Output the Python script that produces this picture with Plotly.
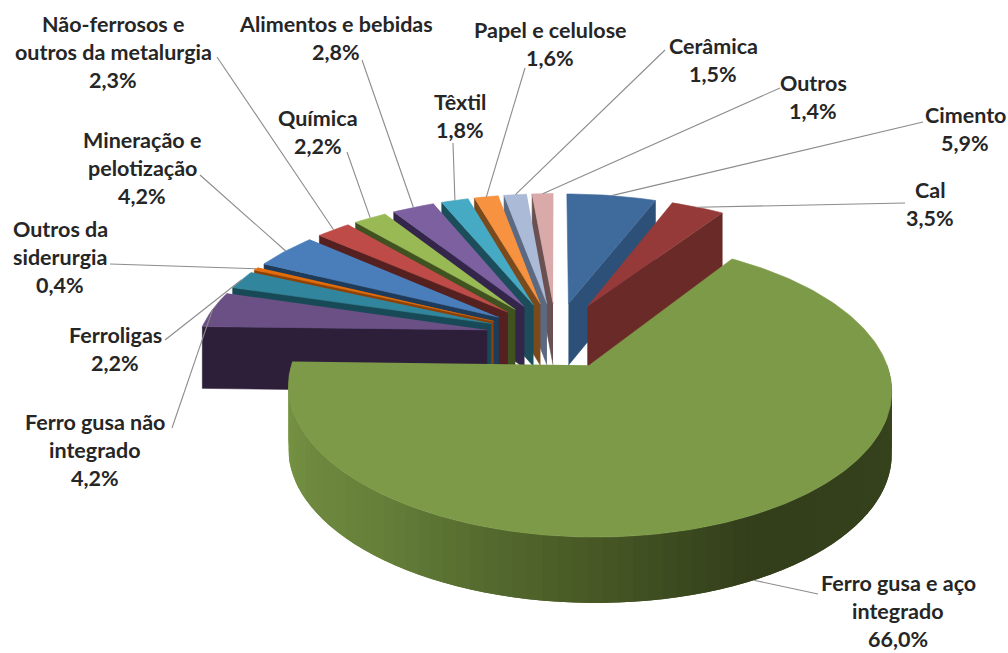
import numpy as np
import plotly.graph_objects as go

# ---------- data ----------
categories = ["Cimento", "Cal", "Ferro gusa e aço<br>integrado", "Ferro gusa não<br>integrado",
              "Ferroligas", "Outros da<br>siderurgia", "Mineração e<br>pelotização",
              "Não-ferrosos e<br>outros da metalurgia", "Química", "Alimentos e bebidas",
              "Têxtil", "Papel e celulose", "Cerâmica", "Outros"]
values = [5.9, 3.5, 66.0, 4.2, 2.2, 0.4, 4.2, 2.3, 2.2, 2.8, 1.8, 1.6, 1.5, 1.4]
value_text = ["5,9%", "3,5%", "66,0%", "4,2%", "2,2%", "0,4%", "4,2%", "2,3%", "2,2%", "2,8%",
              "1,8%", "1,6%", "1,5%", "1,4%"]

# ---------- style ----------
top_colors = ["#3f6a9c", "#953a38", "#7d9a48", "#6b5085", "#31859c", "#e46c0a", "#4a7ebb",
              "#be4b48", "#98b954", "#7d60a0", "#46aac5", "#f69240", "#aabad7", "#d9aaa9"]
wall_colors = ["#2c5078", "#6a2a28", "#3f4f20", "#2d1f3a", "#174a56", "#8a4208", "#1f3b5a",
               "#552020", "#3f5220", "#33264a", "#1b4d5a", "#7a4a1c", "#5b6a82", "#6a5050"]
label_center_x = [965, 930, 898, 95, 115, 60, 142, 113, 318, 336, 460, 550, 713, 813]
label_first_y = [115, 190, 583, 422, 335, 229, 140, 24, 118, 24, 102, 30, 46, 83]
leader_start = [(923, 122), (905, 203), (818, 594), (172, 428), (165, 340), (110, 264), (200, 175),
                (217, 57), (347, 152), (362, 60), (453, 143), (525, 68), (665, 50), (780, 88)]
LINE_H = 28
FONT_SIZE = 21.5

CX, CY = 556, 335
R, EXPL, K, Q, DEPTH = 288, 70, 0.47, 0.00053, 62


def proj(X, Y, z=0.0):
    s = 1 / (1 + Q * Y)
    return CX + X * s, CY - K * Y * s + z * DEPTH * s ** 0.3


def rim(theta, mid, z=0.0, r=R):
    X = EXPL * np.sin(mid) + r * np.sin(theta)
    Y = EXPL * np.cos(mid) + r * np.cos(theta)
    return proj(X, Y, z)


def poly(fig, xs, ys, color, width=0.6):
    fig.add_trace(go.Scatter(x=list(xs), y=list(ys), mode="lines", fill="toself", fillcolor=color,
                             line=dict(color=color, width=width), hoverinfo="skip", showlegend=False))


def lerp_color(stops, t):
    ts = [a for a, _ in stops]
    rgb = [[int(c[i:i + 2], 16) for i in (1, 3, 5)] for _, c in stops]
    return "rgb(%d,%d,%d)" % tuple(np.interp(t, ts, [c[j] for c in rgb]) for j in range(3))


GREEN_WALL = [(90, "#37441d"), (150, "#333e1b"), (180, "#4a5c27"), (215, "#66803a"), (270, "#7d9a47")]

fig = go.Figure()
vals = np.array(values)
edges = np.radians(np.concatenate([[0], np.cumsum(vals)]) * 360 / vals.sum())
mids = (edges[:-1] + edges[1:]) / 2
order = np.argsort(-np.cos(mids))

for i in order:
    a, b, m = edges[i], edges[i + 1], mids[i]
    ax, ay = proj(EXPL * np.sin(m), EXPL * np.cos(m))
    ax2, ay2 = proj(EXPL * np.sin(m), EXPL * np.cos(m), 1)
    if b < np.pi:
        x1, y1 = rim(b, m)
        x2, y2 = rim(b, m, 1)
        poly(fig, [ax, x1, x2, ax2], [ay, y1, y2, ay2], wall_colors[i])
    if a > np.pi:
        x1, y1 = rim(a, m)
        x2, y2 = rim(a, m, 1)
        poly(fig, [ax, x1, x2, ax2], [ay, y1, y2, ay2], wall_colors[i])
    lo, hi = max(a, np.pi / 2), min(b, 3 * np.pi / 2)
    if hi > lo:
        n = int(np.degrees(hi - lo) / 2.5) + 1
        th = np.linspace(lo, hi, n + 1)
        step = th[1] - th[0]
        # each strip runs over the next one so no seam shows
        for t0, t1 in zip(th[:-1][::-1], th[1:][::-1]):
            tt = np.linspace(t0, min(t1 + step, hi), 4)
            xt, yt = rim(tt, m)
            xb, yb = rim(tt[::-1], m, 1)
            col = lerp_color(GREEN_WALL, np.degrees(t0)) if values[i] > 50 else wall_colors[i]
            poly(fig, np.r_[xt, xb], np.r_[yt, yb], col, 0)
    th = np.linspace(a, b, max(3, int(np.degrees(b - a))))
    xs, ys = rim(th, m)
    poly(fig, np.r_[ax, xs], np.r_[ay, ys], top_colors[i])

# leader lines and labels
annotations = []
for i, cat in enumerate(categories):
    m = mids[i]
    ex, ey = rim(m, m, 1 if np.cos(m) < -0.5 else 0)
    sx, sy = leader_start[i]
    fig.add_trace(go.Scatter(x=[sx, ex], y=[sy, ey], mode="lines", hoverinfo="skip", showlegend=False,
                             line=dict(color="#8c8c8c", width=1.1)))
    for j, line in enumerate(cat.split("<br>") + [value_text[i]]):
        annotations.append(dict(x=label_center_x[i], y=label_first_y[i] + j * LINE_H, text=line,
                                showarrow=False, xanchor="center", yanchor="middle",
                                font=dict(family="Lato", size=FONT_SIZE, color="#262626", weight="bold")))

fig.update_layout(
    width=1008, height=653, margin=dict(l=0, r=0, t=0, b=0),
    paper_bgcolor="white", plot_bgcolor="white", showlegend=False, annotations=annotations,
    xaxis=dict(range=[0, 1008], visible=False, fixedrange=True),
    yaxis=dict(range=[653, 0], visible=False, fixedrange=True),
)
fig.write_html("out.html", config=dict(displayModeBar=False),
               post_script="document.body.style.margin='0';document.body.style.overflow='hidden';")
